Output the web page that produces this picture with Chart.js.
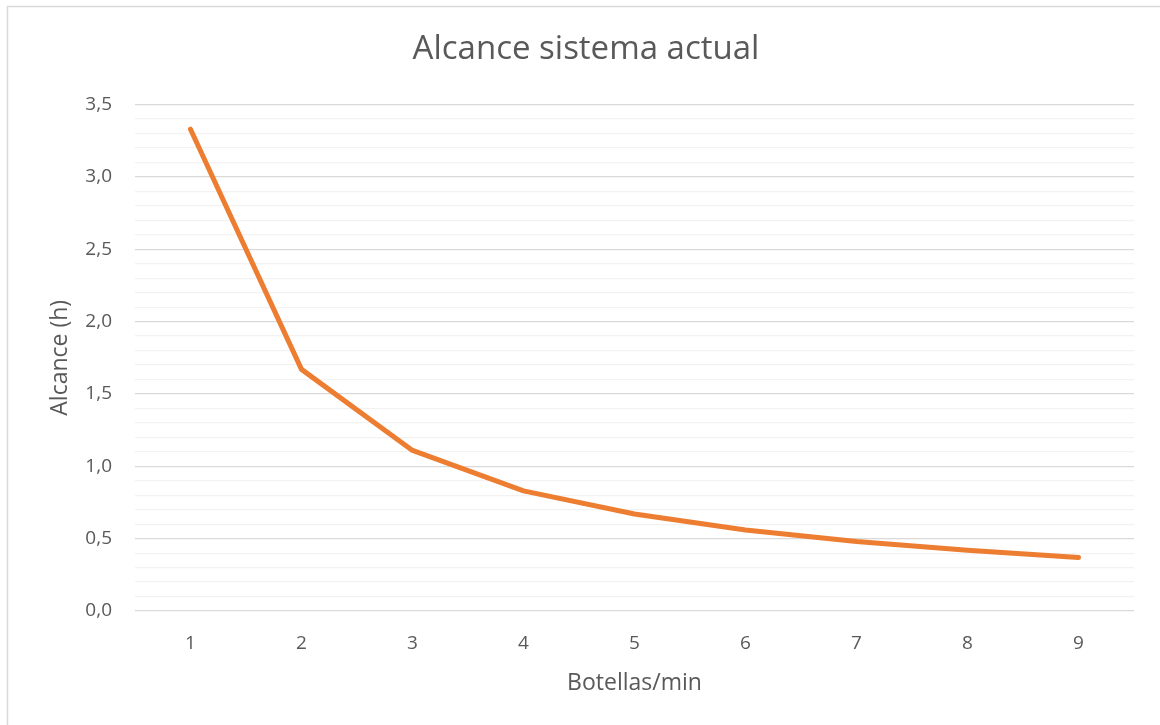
<!DOCTYPE html>
<html>
<head>
<meta charset="utf-8">
<script src="https://cdn.jsdelivr.net/npm/chart.js@4.4.0/dist/chart.umd.min.js"></script>
<style>
  html, body { margin: 0; padding: 0; background: #ffffff; overflow: hidden; }
  #wrap { position: relative; width: 1160px; height: 725px; }
</style>
</head>
<body>
<div id="wrap"><canvas id="c" width="1160" height="725"></canvas></div>
<script>
const categories = ['1', '2', '3', '4', '5', '6', '7', '8', '9'];
const alcanceValues = [3.33, 1.67, 1.11, 0.83, 0.67, 0.56, 0.48, 0.42, 0.37];
const chartTitle = 'Alcance sistema actual';
const xTitle = 'Botellas/min';
const yTitle = 'Alcance (h)';
const yMin = 0, yMax = 3.5, yMinorStep = 0.1;

const FONT = '"Open Sans", "Noto Sans", sans-serif';
const TEXT = '#595959';

const frame = {
  id: 'frame',
  beforeDraw(chart) {
    const ctx = chart.ctx;
    ctx.save();
    ctx.fillStyle = '#ffffff';
    ctx.fillRect(0, 0, chart.width, chart.height);
    ctx.strokeStyle = '#d9d9d9';
    ctx.lineWidth = 1.5;
    ctx.beginPath();
    ctx.moveTo(7.5, chart.height + 2);
    ctx.lineTo(7.5, 6.5);
    ctx.lineTo(chart.width + 2, 6.5);
    ctx.stroke();
    ctx.restore();
  }
};

const isMajor = v => Math.round(v * 10) % 5 === 0;

new Chart(document.getElementById('c'), {
  type: 'line',
  data: {
    labels: categories,
    datasets: [{
      data: alcanceValues,
      borderColor: '#ED7D31',
      borderWidth: 5,
      borderCapStyle: 'round',
      borderJoinStyle: 'round',
      pointRadius: 0,
      tension: 0,
      fill: false
    }]
  },
  options: {
    responsive: false,
    animation: false,
    layout: { padding: { left: 38, right: 26, top: 0, bottom: 0 } },
    plugins: {
      legend: { display: false },
      tooltip: { enabled: false },
      title: {
        display: true,
        text: chartTitle,
        color: TEXT,
        font: { family: FONT, size: 33, weight: 'normal' },
        padding: { top: 30, bottom: 35 }
      }
    },
    scales: {
      x: {
        offset: true,
        grid: { display: false },
        border: { display: false },
        ticks: {
          color: TEXT,
          font: { family: FONT, size: 19 },
          padding: 13,
          maxRotation: 0
        },
        title: {
          display: true,
          text: xTitle,
          color: TEXT,
          font: { family: FONT, size: 23 },
          padding: { top: 10, bottom: 28 }
        },
        afterFit(scale) { scale.height = 114; }
      },
      y: {
        min: yMin,
        max: yMax,
        border: { display: false },
        grid: {
          drawTicks: false,
          lineWidth: 1.2,
          color: ctx => isMajor(ctx.tick.value) ? '#d9d9d9' : '#f2f2f2'
        },
        ticks: {
          stepSize: yMinorStep,
          autoSkip: false,
          color: TEXT,
          font: { family: FONT, size: 19 },
          padding: 23,
          callback: v => isMajor(v) ? v.toFixed(1).replace('.', ',') : ''
        },
        title: {
          display: true,
          text: yTitle,
          color: TEXT,
          font: { family: FONT, size: 23 },
          padding: { top: 9, bottom: 0 }
        },
        afterFit(scale) { scale.width = 97; }
      }
    }
  },
  plugins: [frame]
});
</script>
</body>
</html>
